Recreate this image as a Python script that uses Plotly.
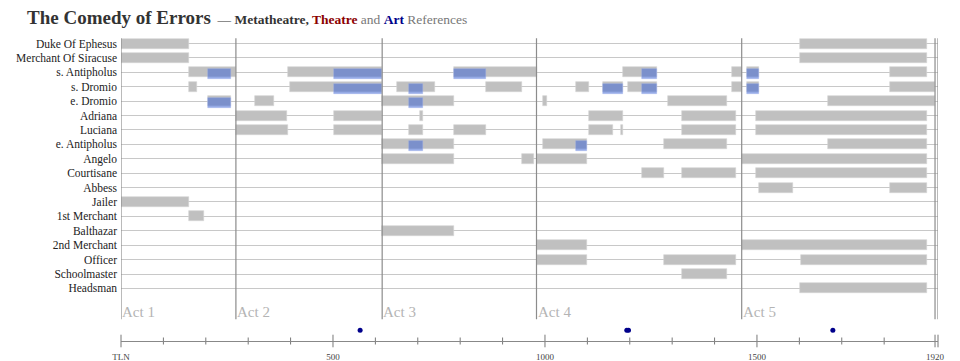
import plotly.graph_objects as go

# ---------------- data ----------------
CHARACTERS = ["Duke Of Ephesus", "Merchant Of Siracuse", "s. Antipholus", "s. Dromio",
              "e. Dromio", "Adriana", "Luciana", "e. Antipholus", "Angelo", "Courtisane",
              "Abbess", "Jailer", "1st Merchant", "Balthazar", "2nd Merchant", "Officer",
              "Schoolmaster", "Headsman"]

# on-stage spans (grey): character, start TLN, end TLN
STAGE_CHAR = ["Duke Of Ephesus", "Duke Of Ephesus",
              "Merchant Of Siracuse", "Merchant Of Siracuse",
              "s. Antipholus", "s. Antipholus", "s. Antipholus", "s. Antipholus", "s. Antipholus", "s. Antipholus", "s. Antipholus",
              "s. Dromio", "s. Dromio", "s. Dromio", "s. Dromio", "s. Dromio", "s. Dromio", "s. Dromio", "s. Dromio", "s. Dromio", "s. Dromio",
              "e. Dromio", "e. Dromio", "e. Dromio", "e. Dromio", "e. Dromio", "e. Dromio",
              "Adriana", "Adriana", "Adriana", "Adriana", "Adriana", "Adriana",
              "Luciana", "Luciana", "Luciana", "Luciana", "Luciana", "Luciana", "Luciana", "Luciana",
              "e. Antipholus", "e. Antipholus", "e. Antipholus", "e. Antipholus",
              "Angelo", "Angelo", "Angelo", "Angelo",
              "Courtisane", "Courtisane", "Courtisane",
              "Abbess", "Abbess",
              "Jailer",
              "1st Merchant",
              "Balthazar",
              "2nd Merchant", "2nd Merchant",
              "Officer", "Officer", "Officer",
              "Schoolmaster",
              "Headsman"]
STAGE_START = [0, 1601,
               0, 1601,
               160, 394, 785, 1184, 1441, 1476, 1814,
               160, 399, 651, 861, 1073, 1137, 1196, 1441, 1476, 1814,
               205, 316, 616, 995, 1290, 1667,
               271, 502, 705, 1104, 1323, 1498,
               271, 502, 679, 785, 1104, 1179, 1323, 1498,
               616, 995, 1281, 1667,
               616, 946, 981, 1465,
               1229, 1323, 1498,
               1505, 1814,
               0,
               160,
               616,
               981, 1465,
               981, 1281, 1603,
               1323,
               1601]
STAGE_END = [160, 1901,
             160, 1901,
             271, 616, 981, 1264, 1465, 1505, 1901,
             179, 616, 741, 946, 1104, 1184, 1264, 1465, 1505, 1920,
             259, 361, 785, 1005, 1429, 1920,
             392, 616, 712, 1184, 1450, 1901,
             394, 616, 712, 861, 1160, 1184, 1450, 1901,
             785, 1099, 1429, 1901,
             785, 974, 1099, 1901,
             1281, 1450, 1901,
             1585, 1901,
             160,
             196,
             785,
             1099, 1901,
             1099, 1450, 1901,
             1429,
             1901]

# references (blue)
REF_CHAR = ["s. Antipholus", "s. Antipholus", "s. Antipholus", "s. Antipholus", "s. Antipholus",
            "s. Dromio", "s. Dromio", "s. Dromio", "s. Dromio", "s. Dromio",
            "e. Dromio", "e. Dromio",
            "e. Antipholus", "e. Antipholus"]
REF_START = [205, 502, 785, 1229, 1476,
             502, 679, 1137, 1229, 1476,
             205, 679,
             679, 1073]
REF_END = [259, 616, 861, 1264, 1505,
           616, 712, 1184, 1264, 1505,
           259, 712,
           712, 1099]

ACT_LABELS = ["Act 1", "Act 2", "Act 3", "Act 4", "Act 5"]
ACT_START = [0, 271, 616, 980, 1464]
END_TLN = 1920

ART_REFS = [564, 1193, 1197, 1679]

TICK_VALS = [0, 500, 1000, 1500, 1920]
TICK_TEXT = ["TLN", "500", "1000", "1500", "1920"]
MINOR_TICKS = [100, 200, 300, 400, 600, 700, 800, 900, 1100, 1200, 1300, 1400, 1600, 1700, 1800]

# ---------------- figure ----------------
FONT = "Liberation Serif"
row = {c: i for i, c in enumerate(CHARACTERS)}

X_MAX = 1927
Y_TOP, Y_BOTTOM = -0.94, 20.65
ACT_Y0, ACT_Y1 = -0.36, 19.14
DOT_Y = 19.9

fig = go.Figure()

fig.add_trace(go.Bar(
    orientation="h",
    y=[row[c] for c in STAGE_CHAR],
    base=STAGE_START,
    x=[e - s for s, e in zip(STAGE_START, STAGE_END)],
    width=0.69,
    marker=dict(color="#c0c0c0", line=dict(width=0.6, color="#d4d4d4")),
    hoverinfo="skip", showlegend=False,
))
fig.add_trace(go.Bar(
    orientation="h",
    y=[row[c] for c in REF_CHAR],
    base=REF_START,
    x=[e - s for s, e in zip(REF_START, REF_END)],
    width=0.69, offset=-0.2,
    marker=dict(color="rgba(66,104,212,0.55)", line=dict(width=0.6, color="rgba(150,170,235,0.6)")),
    hoverinfo="skip", showlegend=False,
))

# act lines and labels
for lab, a in zip(ACT_LABELS, ACT_START):
    fig.add_shape(type="line", x0=a, x1=a, y0=ACT_Y0, y1=ACT_Y1,
                  line=dict(color="#8c8c8c", width=1.2), layer="above")
    fig.add_annotation(x=a, y=ACT_Y1, text=lab, showarrow=False, xanchor="left", yanchor="bottom",
                       xshift=-1, yshift=-3,
                       font=dict(family=FONT, size=15, color="#b4b4b4"))
for xv in (END_TLN, X_MAX):
    fig.add_shape(type="line", x0=xv, x1=xv, y0=ACT_Y0, y1=ACT_Y1,
                  line=dict(color="#8c8c8c", width=1.2), layer="above")

# art reference dots
fig.add_trace(go.Scatter(x=ART_REFS, y=[DOT_Y] * len(ART_REFS), mode="markers",
                         marker=dict(color="#00008b", size=5), cliponaxis=False,
                         hoverinfo="skip", showlegend=False))

# axis ticks crossing the axis line
fig.add_trace(go.Scatter(x=TICK_VALS[:-1] + [END_TLN, X_MAX], y=[Y_BOTTOM] * (len(TICK_VALS) + 1),
                         mode="markers",
                         marker=dict(symbol="line-ns", size=9, line=dict(width=1, color="#777")),
                         cliponaxis=False, hoverinfo="skip", showlegend=False))
fig.add_trace(go.Scatter(x=MINOR_TICKS, y=[Y_BOTTOM] * len(MINOR_TICKS), mode="markers",
                         marker=dict(symbol="line-ns", size=5, line=dict(width=1, color="#777")),
                         cliponaxis=False, hoverinfo="skip", showlegend=False))

# title
fig.add_annotation(
    xref="paper", yref="paper", x=-96 / 817, y=1 + 12 / 311, xanchor="left", yanchor="middle",
    showarrow=False,
    text=("<b>The Comedy of Errors</b>"
          "<span style='font-size:13.5px'>  — <b>Metatheatre, </b>"
          "<b><span style='color:#8b0000'>Theatre</span></b>"
          "<span style='color:#777'> and </span>"
          "<b><span style='color:#00008b'>Art</span></b>"
          "<span style='color:#777'> References</span></span>"),
    font=dict(family=FONT, size=19, color="#333"))

fig.update_layout(
    width=960, height=361,
    margin=dict(l=121, r=22, t=30, b=20, autoexpand=False),
    paper_bgcolor="white", plot_bgcolor="white",
    barmode="overlay", bargap=0,
    xaxis=dict(range=[0, X_MAX], tickvals=TICK_VALS, ticktext=TICK_TEXT, automargin=False,
               showgrid=False, zeroline=False, showline=True, linecolor="#888", linewidth=1,
               ticks="", ticklabelstandoff=7,
               tickfont=dict(family=FONT, size=9, color="#444")),
    yaxis=dict(range=[Y_BOTTOM, Y_TOP], tickvals=list(range(len(CHARACTERS))), ticktext=CHARACTERS,
               automargin=False,
               showgrid=True, gridcolor="#c8c8c8", gridwidth=1, zeroline=False, showline=False,
               ticks="", ticklabelstandoff=3,
               tickfont=dict(family=FONT, size=11.5, color="#222")),
    font=dict(family=FONT),
)

fig.write_html("out.html", config={"displayModeBar": False},
               post_script="document.body.style.margin='0';document.body.style.overflow='hidden';")
